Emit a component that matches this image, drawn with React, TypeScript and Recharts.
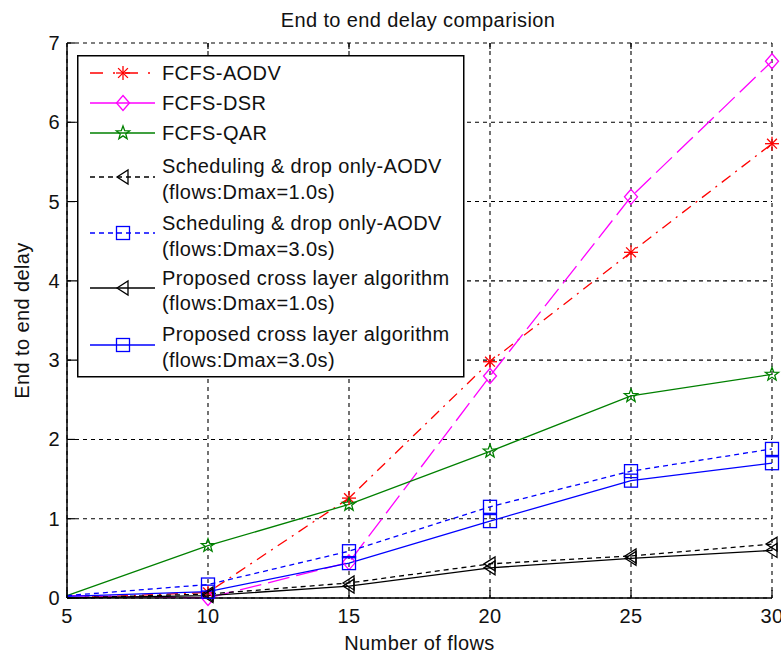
import { CartesianGrid, Legend, Line, LineChart, XAxis, YAxis } from "recharts";

document.body.style.margin = "0";

const FONT = "'Liberation Sans', Arial, sans-serif";

const flows = [5, 10, 15, 20, 25, 30];
const yTicks = [0, 1, 2, 3, 4, 5, 6, 7];

const fcfsAodv = [0, 0.07, 1.26, 2.98, 4.36, 5.73];
const fcfsDsr = [0.03, 0.0, 0.45, 2.8, 5.06, 6.77];
const fcfsQar = [0.03, 0.66, 1.18, 1.85, 2.55, 2.82];
const schedD1 = [0, 0.05, 0.19, 0.43, 0.53, 0.68];
const schedD3 = [0.03, 0.17, 0.59, 1.15, 1.6, 1.88];
const propD1 = [0, 0.03, 0.15, 0.38, 0.5, 0.6];
const propD3 = [0.02, 0.08, 0.44, 0.97, 1.48, 1.7];

const data = flows.map((f, i) => ({
  flows: f,
  aodv: fcfsAodv[i],
  dsr: fcfsDsr[i],
  qar: fcfsQar[i],
  s1: schedD1[i],
  s3: schedD3[i],
  p1: propD1[i],
  p3: propD3[i],
}));

type MarkerKind = "asterisk" | "diamond" | "pentagram" | "triangle" | "square";

const series: {
  key: string;
  label: string[];
  color: string;
  dash?: string;
  legendDash?: string;
  marker: MarkerKind;
}[] = [
  { key: "aodv", label: ["FCFS-AODV"], color: "#ff0000", dash: "11 6 2 6", legendDash: "13 10 2 10", marker: "asterisk" },
  { key: "dsr", label: ["FCFS-DSR"], color: "#ff00ff", dash: "22 7", marker: "diamond" },
  { key: "qar", label: ["FCFS-QAR"], color: "#008000", marker: "pentagram" },
  { key: "s1", label: ["Scheduling & drop only-AODV", "(flows:Dmax=1.0s)"], color: "#000000", dash: "5 4", legendDash: "5 4", marker: "triangle" },
  { key: "s3", label: ["Scheduling & drop only-AODV", "(flows:Dmax=3.0s)"], color: "#0000ff", dash: "5 4", legendDash: "5 4", marker: "square" },
  { key: "p1", label: ["Proposed cross layer algorithm", "(flows:Dmax=1.0s)"], color: "#000000", marker: "triangle" },
  { key: "p3", label: ["Proposed cross layer algorithm", "(flows:Dmax=3.0s)"], color: "#0000ff", marker: "square" },
];

function Marker({ kind, cx, cy, color }: { kind: MarkerKind; cx: number; cy: number; color: string }) {
  const sw = 1.3;
  if (kind === "asterisk") {
    const r = 7;
    const d = r * 0.7;
    return (
      <g stroke={color} strokeWidth={sw}>
        <line x1={cx - r} y1={cy} x2={cx + r} y2={cy} />
        <line x1={cx} y1={cy - r} x2={cx} y2={cy + r} />
        <line x1={cx - d} y1={cy - d} x2={cx + d} y2={cy + d} />
        <line x1={cx - d} y1={cy + d} x2={cx + d} y2={cy - d} />
      </g>
    );
  }
  if (kind === "diamond") {
    const pts = `${cx},${cy - 7.5} ${cx + 6.5},${cy} ${cx},${cy + 7.5} ${cx - 6.5},${cy}`;
    return <polygon points={pts} fill="none" stroke={color} strokeWidth={sw} />;
  }
  if (kind === "pentagram") {
    const pts: string[] = [];
    for (let k = 0; k < 10; k++) {
      const r = k % 2 === 0 ? 7 : 2.9;
      const a = -Math.PI / 2 + (k * Math.PI) / 5;
      pts.push(`${cx + r * Math.cos(a)},${cy + r * Math.sin(a)}`);
    }
    return <polygon points={pts.join(" ")} fill="none" stroke={color} strokeWidth={sw} />;
  }
  if (kind === "triangle") {
    const pts = `${cx - 6},${cy} ${cx + 5},${cy - 7} ${cx + 5},${cy + 7}`;
    return <polygon points={pts} fill="none" stroke={color} strokeWidth={sw} />;
  }
  return <rect x={cx - 6.5} y={cy - 6.5} width={13} height={13} fill="none" stroke={color} strokeWidth={sw} />;
}

const makeDot = (kind: MarkerKind, color: string) => (props: any) => {
  const { cx, cy, index } = props;
  if (index === 0 || cx == null || cy == null) return <g key={`d${index}`} />;
  return (
    <g key={`d${index}`}>
      <Marker kind={kind} cx={cx} cy={cy} color={color} />
    </g>
  );
};

const textStyle = { fontFamily: FONT, fontSize: 20, letterSpacing: 0.4, fill: "#111" };

const BottomTick = (props: any) => {
  const { x, y, payload } = props;
  return (
    <g>
      <line x1={x} y1={y} x2={x} y2={y - 8} stroke="#000" strokeWidth={1.2} />
      <text x={x} y={y + 18} textAnchor="middle" dominantBaseline="central" style={textStyle}>
        {payload.value}
      </text>
    </g>
  );
};

const LeftTick = (props: any) => {
  const { x, y, payload } = props;
  return (
    <g>
      <line x1={x} y1={y} x2={x + 8} y2={y} stroke="#000" strokeWidth={1.2} />
      <text x={x - 7} y={y} textAnchor="end" dominantBaseline="central" style={textStyle}>
        {payload.value}
      </text>
    </g>
  );
};

const TopTick = (props: any) => {
  const { x, y } = props;
  return <line x1={x} y1={y} x2={x} y2={y + 6} stroke="#000" strokeWidth={1.2} />;
};

const RightTick = (props: any) => {
  const { x, y } = props;
  return <line x1={x} y1={y} x2={x - 6} y2={y} stroke="#000" strokeWidth={1.2} />;
};

// row positions inside the legend box
const legendRows = [
  { marker: 18, text: [18] },
  { marker: 48, text: [48] },
  { marker: 78, text: [78] },
  { marker: 122, text: [111, 137] },
  { marker: 178, text: [168, 194] },
  { marker: 233, text: [223, 248] },
  { marker: 290, text: [279, 305] },
];

const LegendBox = () => (
  <svg width={388} height={323} style={{ display: "block" }}>
    <rect x={0.75} y={0.75} width={386} height={321} fill="#fff" stroke="#000" strokeWidth={1.5} />
    {series.map((s, i) => {
      const row = legendRows[i];
      return (
        <g key={s.key}>
          <line
            x1={13}
            y1={row.marker}
            x2={78}
            y2={row.marker}
            stroke={s.color}
            strokeWidth={1.3}
            strokeDasharray={s.legendDash}
          />
          <Marker kind={s.marker} cx={46} cy={row.marker} color={s.color} />
          {s.label.map((t, j) => (
            <text key={j} x={85} y={row.text[j]} dominantBaseline="central" style={textStyle}>
              {t}
            </text>
          ))}
        </g>
      );
    })}
  </svg>
);

export default function App() {
  return (
    <div style={{ width: 781, height: 656, background: "#fff", position: "relative" }}>
      <LineChart width={781} height={656} data={data} margin={{ top: 0, right: 0, bottom: 0, left: 0 }}>
        <CartesianGrid stroke="#000" strokeDasharray="4 4" strokeWidth={1.1} />
        <XAxis
          dataKey="flows"
          type="number"
          domain={[5, 30]}
          ticks={flows}
          height={58}
          tickSize={0}
          tickMargin={0}
          tickLine={false}
          axisLine={{ stroke: "#000", strokeWidth: 1.5 }}
          tick={<BottomTick />}
          interval={0}
          label={{ value: "Number of flows", position: "insideBottom", offset: 6, style: { ...textStyle } }}
        />
        <XAxis
          xAxisId="top"
          orientation="top"
          dataKey="flows"
          type="number"
          domain={[5, 30]}
          ticks={flows.slice(1, -1)}
          height={43}
          tickSize={0}
          tickMargin={0}
          tickLine={false}
          axisLine={false}
          tick={<TopTick />}
          interval={0}
        />
        <YAxis
          type="number"
          domain={[0, 7]}
          ticks={yTicks}
          width={67}
          tickSize={0}
          tickMargin={0}
          tickLine={false}
          axisLine={{ stroke: "#000", strokeWidth: 1.5 }}
          tick={<LeftTick />}
          interval={0}
          label={{ value: "End to end delay", angle: -90, position: "insideLeft", offset: 22, style: { ...textStyle, textAnchor: "middle" } }}
        />
        <YAxis
          yAxisId="right"
          orientation="right"
          type="number"
          domain={[0, 7]}
          ticks={yTicks.slice(1, -1)}
          width={9}
          tickSize={0}
          tickMargin={0}
          tickLine={false}
          axisLine={false}
          tick={<RightTick />}
          interval={0}
        />
        <Legend
          layout="vertical"
          align="center"
          verticalAlign="middle"
          wrapperStyle={{ left: 77, top: 55, width: 388, height: 323 }}
          content={() => <LegendBox />}
        />
        {series.map((s) => (
          <Line
            key={s.key}
            dataKey={s.key}
            type="linear"
            stroke={s.color}
            strokeWidth={1.3}
            strokeDasharray={s.dash}
            dot={makeDot(s.marker, s.color)}
            activeDot={false}
            isAnimationActive={false}
          />
        ))}
        <text x={418} y={20} textAnchor="middle" dominantBaseline="central" style={textStyle}>
          End to end delay comparision
        </text>
      </LineChart>
    </div>
  );
}
